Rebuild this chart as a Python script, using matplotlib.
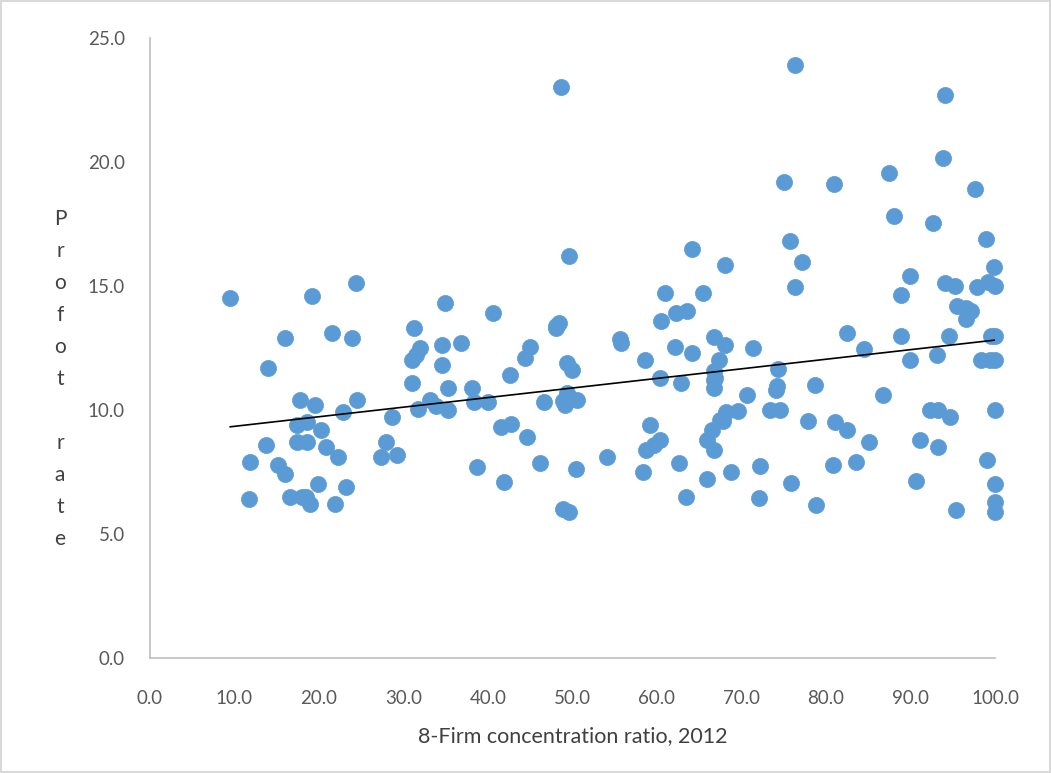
import numpy as np
import matplotlib
matplotlib.use("Agg")
from matplotlib import pyplot as plt

# 8-firm concentration ratio (x) and profit rate (y)
conc = [9.5, 11.7, 11.8, 14.0, 13.7, 15.1, 16.0, 16.0, 16.6, 17.4,
        17.4, 17.8, 18.0, 18.6, 18.6, 18.5, 18.9, 19.2, 19.5, 19.9,
        20.2, 20.8, 21.5, 21.9, 22.2, 22.8, 23.2, 23.9, 24.4, 24.5,
        27.3, 27.9, 28.6, 29.2, 31.0, 31.2, 31.5, 31.7, 32.0, 31.0,
        33.1, 33.8, 34.5, 34.6, 34.9, 35.3, 35.3, 36.8, 38.1, 38.4,
        38.7, 40.0, 40.6, 41.5, 41.9, 42.6, 42.7, 44.4, 44.6, 45.0,
        46.2, 46.6, 48.0, 48.0, 48.4, 48.6, 48.9, 48.9, 49.1, 49.2,
        49.3, 49.3, 49.6, 49.6, 49.9, 50.4, 50.5, 54.1, 55.6, 55.8,
        58.4, 58.6, 58.7, 59.2, 59.6, 60.4, 60.4, 60.5, 60.9, 62.2,
        62.1, 62.6, 62.9, 63.4, 63.5, 64.2, 64.2, 65.5, 65.9,
        65.9, 66.5, 66.7, 66.7, 66.7, 66.7, 66.9, 66.8, 67.3,
        67.5, 67.8, 68.0, 68.0, 68.2, 68.8, 69.6, 70.7, 71.4, 72.1,
        72.2, 73.4, 74.1, 74.2, 74.3, 74.6, 75.0, 75.7, 75.9, 76.3,
        76.3, 77.2, 77.9, 78.7, 78.8, 80.8, 81.0, 81.1, 82.5, 82.5,
        83.5, 84.5, 85.1, 86.7, 87.5, 88.1, 88.9, 88.9, 89.9, 90.0,
        90.6, 91.1, 92.3, 92.7, 93.1, 93.2, 93.3, 93.8, 94.1, 94.1,
        94.5, 94.7, 95.3, 95.4, 95.5, 96.6, 96.6, 97.2, 97.6, 97.9,
        98.4, 98.9, 99.0, 99.2, 99.4, 99.5, 99.9, 100.0, 100.0, 100.0,
        100.0, 100.0, 100.0, 100.0]
profit = [14.5, 6.4, 7.9, 11.7, 8.6, 7.8, 7.4, 12.9, 6.5, 9.4,
          8.7, 10.4, 6.5, 8.7, 9.5, 6.5, 6.2, 14.6, 10.2, 7.0,
          9.2, 8.5, 13.1, 6.2, 8.1, 9.9, 6.9, 12.9, 15.1, 10.4,
          8.1, 8.7, 9.7, 8.2, 12.0, 13.3, 12.2, 10.05, 12.5, 11.1,
          10.4, 10.15, 11.8, 12.6, 14.3, 10.9, 10.0, 12.7, 10.9, 10.3,
          7.7, 10.3, 13.9, 9.3, 7.1, 11.4, 9.45, 12.1, 8.9, 12.55,
          7.85, 10.3, 13.4, 13.3, 13.5, 23.0, 6.0, 10.35, 10.2, 10.5,
          11.9, 10.7, 16.2, 5.9, 11.6, 7.6, 10.4, 8.1, 12.85, 12.7,
          7.5, 12.0, 8.4, 9.4, 8.6, 11.3, 8.8, 13.6, 14.7, 13.9,
          12.55, 7.85, 11.1, 6.5, 14.0, 16.5, 12.3, 14.7, 7.2,
          8.8, 9.2, 12.95, 11.55, 11.2, 10.9, 11.3, 8.4, 12.0,
          9.6, 9.55, 15.85, 12.6, 9.9, 7.5, 9.95, 10.6, 12.5, 6.45,
          7.75, 10.0, 10.8, 10.95, 11.65, 10.0, 19.2, 16.8, 7.05, 23.9,
          14.95, 15.95, 9.55, 11.0, 6.15, 7.8, 19.1, 9.5, 13.1, 9.2,
          7.9, 12.45, 8.7, 10.6, 19.55, 17.8, 14.65, 13.0, 15.4, 12.0,
          7.15, 8.8, 10.0, 17.55, 12.2, 8.5, 10.0, 20.15, 22.7, 15.1,
          13.0, 9.7, 15.0, 5.95, 14.2, 14.1, 13.65, 14.0, 18.9, 14.95,
          12.0, 16.9, 8.0, 15.15, 12.0, 13.0, 15.75, 15.0, 13.0, 12.0,
          10.0, 7.0, 6.3, 5.9]

x_ticks = np.arange(0, 101, 10)
y_ticks = np.arange(0, 26, 5)
y_label = "Profot rate"

conc = np.array(conc)
profit = np.array(profit)

plt.rcParams['font.family'] = ['Lato', 'DejaVu Sans']

fig = plt.figure(figsize=(10.51, 7.73), dpi=100)
fig.patch.set_edgecolor('#d9d9d9')
fig.patch.set_linewidth(1.5)
ax = fig.add_axes([0.1427, 0.1488, 0.804, 0.8022])

ax.scatter(conc, profit, s=135, color='#5b9bd5', edgecolors='#5b9bd5',
           linewidths=0.5, zorder=2, clip_on=False)

# linear trendline
k, b = np.polyfit(conc, profit, 1)
xt = np.array([conc.min(), conc.max()])
ax.plot(xt, k * xt + b, color='black', lw=1.2, zorder=3)

ax.set_xlim(0, 100)
ax.set_ylim(0, 25)
ax.set_xticks(x_ticks)
ax.set_xticklabels([f"{v:.1f}" for v in x_ticks])
ax.set_yticks(y_ticks)
ax.set_yticklabels([f"{v:.1f}" for v in y_ticks])
ax.tick_params(length=0, labelsize=13.5, labelcolor='#595959')
ax.tick_params(axis='x', pad=23)
ax.tick_params(axis='y', pad=18)

for s in ['top', 'right']:
    ax.spines[s].set_visible(False)
for s in ['left', 'bottom']:
    ax.spines[s].set_color('#bfbfbf')
    ax.spines[s].set_linewidth(1.2)

ax.set_xlabel("8-Firm concentration ratio, 2012", fontsize=15.5,
              color='#404040', labelpad=14)

# stacked vertical y label like the original
fig.text(0.057, 0.51, "\n".join(y_label), fontsize=15, color='#404040',
         ha='center', va='center', linespacing=1.75)

fig.savefig("out.png", dpi=100)
